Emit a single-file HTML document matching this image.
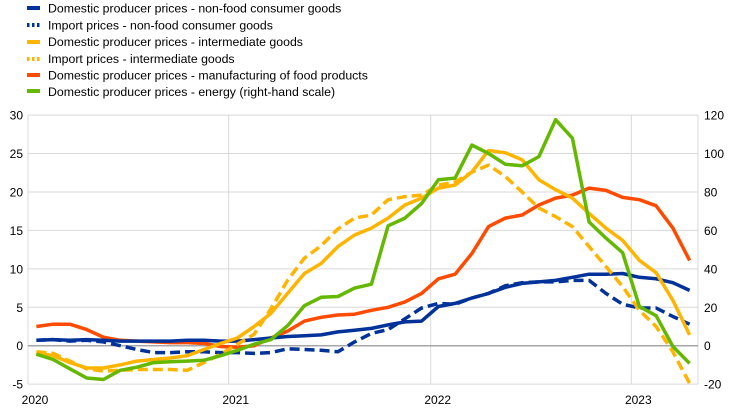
<!DOCTYPE html>
<html><head><meta charset="utf-8"><style>
html,body{margin:0;padding:0;background:#fff;}
svg{display:block;font-family:"Liberation Sans",sans-serif;}
</style></head><body>
<svg id="c" width="742" height="410" xmlns="http://www.w3.org/2000/svg">
<g font-size="12.3" fill="#000">
<rect x="27" y="6" width="13" height="4" fill="#003299"/>
<text x="48" y="12.5">Domestic producer prices - non-food consumer goods</text>
<g fill="#003299"><rect x="27" y="23" width="2.5" height="4"/><rect x="32" y="23" width="2.5" height="4"/><rect x="37" y="23" width="2.5" height="4"/></g>
<text x="48" y="29.5">Import prices - non-food consumer goods</text>
<rect x="27" y="40" width="13" height="4" fill="#ffb400"/>
<text x="48" y="46">Domestic producer prices - intermediate goods</text>
<g fill="#ffb400"><rect x="27" y="57" width="2.5" height="4"/><rect x="32" y="57" width="2.5" height="4"/><rect x="37" y="57" width="2.5" height="4"/></g>
<text x="48" y="63">Import prices - intermediate goods</text>
<rect x="27" y="73" width="13" height="4" fill="#ff4b00"/>
<text x="48" y="79.5">Domestic producer prices - manufacturing of food products</text>
<rect x="27" y="89" width="13" height="4" fill="#65b800"/>
<text x="48" y="96">Domestic producer prices - energy (right-hand scale)</text>
</g>
<g id="grid" stroke="#d9d9d9" stroke-width="1"></g>
<g id="labels" font-size="12" fill="#000"></g>
<g id="series" fill="none" stroke-width="3.5" stroke-linejoin="round"></g>
</svg>
<script>
const L=28,R=698,T=115,B=384,Z=345.7,U=7.686;
const y=v=>Z-v*U, x=i=>36.4+16.75*i;
const ns="http://www.w3.org/2000/svg";
function el(p,t,a,txt){const e=document.createElementNS(ns,t);for(const k in a)e.setAttribute(k,a[k]);if(txt!==undefined)e.textContent=txt;document.getElementById(p).appendChild(e);}
for(let v=-5;v<=30;v+=5){ if(v!==0) el('grid','line',{x1:L,x2:R,y1:y(v),y2:y(v)});
 el('labels','text',{x:23,y:y(v)+4.5,'text-anchor':'end'},String(v));
 el('labels','text',{x:704,y:y(v)+4.5},String(v*4));}
[[L,'2020'],[228.7,'2021'],[430.7,'2022'],[631.3,'2023']].forEach(([xx,t])=>{
 el('grid','line',{x1:xx,x2:xx,y1:T,y2:B});
 el('labels','text',{x:xx+7,y:404,'text-anchor':'middle'},t);});
el('grid','line',{x1:R,x2:R,y1:T,y2:B});
el('grid','line',{x1:L,x2:R,y1:Z,y2:Z,stroke:'#a6a6a6','stroke-width':1.5});
const S={
bs:[.7,.8,.7,.8,.7,.6,.6,.6,.6,.7,.7,.6,.6,.8,1,1.2,1.3,1.4,1.8,2,2.25,2.7,3.1,3.2,5.1,5.5,6.2,6.8,7.6,8.1,8.3,8.5,8.9,9.3,9.3,9.4,8.9,8.7,8.2,7.2],
bd:[.7,.8,.6,.7,.5,0,-.5,-.9,-.9,-.8,-.8,-.9,-.9,-1,-.9,-.4,-.5,-.6,-.8,.5,1.6,2.1,3.5,4.9,5.5,5.4,6.2,6.8,7.8,8.2,8.3,8.3,8.5,8.5,6.8,5.4,4.9,4.9,3.8,2.8],
ys:[-.9,-1.3,-2.2,-2.9,-2.9,-2.5,-2,-1.8,-1.6,-1.3,-.5,.3,1,2.5,4.2,6.8,9.4,10.7,12.9,14.4,15.3,16.6,18.3,19.2,20.5,20.9,22.6,25.4,25.1,24.2,21.6,20.3,19.2,17.2,15.3,13.7,11.1,9.5,5.9,1.4],
yd:[-.8,-1,-2,-3,-3.3,-3.2,-3.1,-3.1,-3.1,-3.2,-2.2,-1.1,.2,1.5,4.8,8.5,11.4,13,15.2,16.6,17,19,19.4,19.6,20.9,21.3,22.6,23.5,22,20,17.9,16.8,15.5,12.9,10.3,7.7,4.6,2.5,-.8,-4.9],
r:[2.5,2.8,2.8,2.1,1.1,.7,.6,.5,.4,.4,.3,-.1,-.2,0,1,1.9,3.2,3.7,4,4.1,4.6,5,5.7,6.8,8.7,9.3,12,15.5,16.6,17,18.3,19.2,19.6,20.5,20.2,19.3,19,18.2,15.3,11.1],
g:[-1.1,-1.8,-3,-4.2,-4.4,-3.2,-2.8,-2.2,-2.1,-2,-1.9,-1.3,-.6,.2,.8,2.6,5.2,6.3,6.4,7.5,8,15.6,16.6,18.5,21.6,21.8,26.1,25,23.6,23.4,24.6,29.4,27,16.1,14,12.1,5.1,3.9,-.1,-2.3]};
const pts=a=>a.map((v,i)=>x(i).toFixed(1)+','+y(v).toFixed(1)).join(' ');
el('series','polyline',{points:pts(S.r),stroke:'#ff4b00'});
el('series','polyline',{points:pts(S.bs),stroke:'#003299'});
el('series','polyline',{points:pts(S.bd),stroke:'#003299','stroke-dasharray':'10,5'});
el('series','polyline',{points:pts(S.ys),stroke:'#ffb400'});
el('series','polyline',{points:pts(S.yd),stroke:'#ffb400','stroke-dasharray':'10,5'});
el('series','polyline',{points:pts(S.g),stroke:'#65b800'});
</script>
</body></html>
